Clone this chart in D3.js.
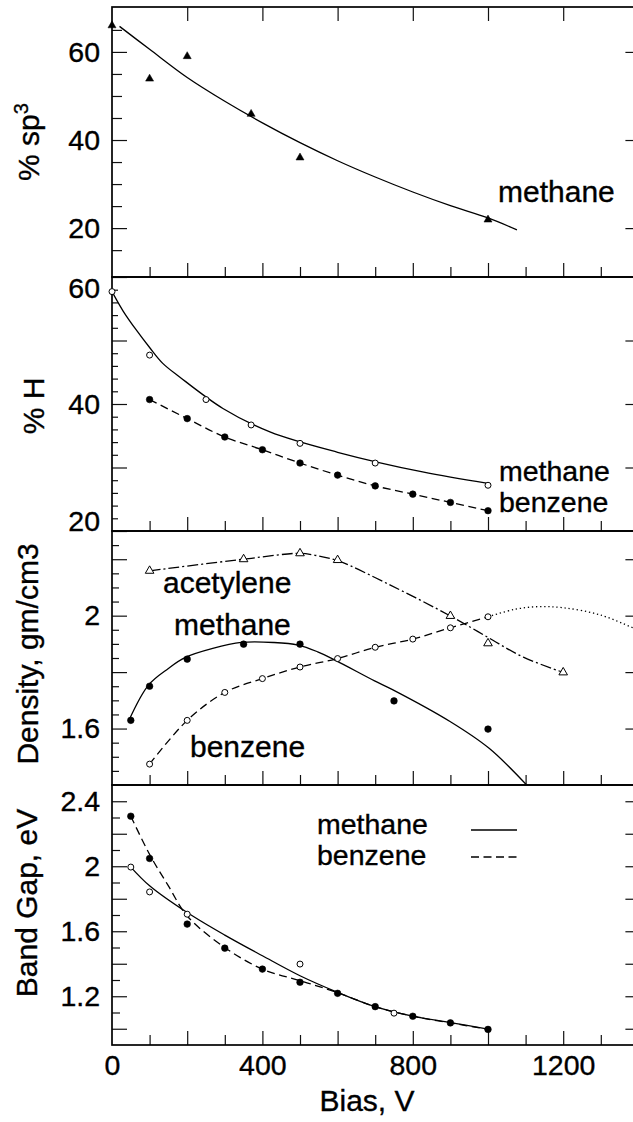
<!DOCTYPE html>
<html>
<head>
<meta charset="utf-8">
<script src="https://cdn.jsdelivr.net/npm/d3@7"></script>
<style>
  body { margin: 0; background: #fff; }
  svg { display: block; font-family: "Liberation Sans", Arial, Helvetica, sans-serif; }
  .tick line { stroke: #111; stroke-width: 1.2; }
  .tick text { font-size: 28.5px; fill: #000; stroke: #000; stroke-width: 0.35; }
  .lbl { font-size: 30px; fill: #000; stroke: #000; stroke-width: 0.35; }
  .lbl.pair { font-size: 28.5px; }
</style>
</head>
<body>
<svg width="633" height="1122"></svg>
<script>
// % sp3 (methane)
const sp3Bias = [0, 100, 200, 370, 500, 1000];
const sp3Pct = [66.0, 53.9, 59.0, 45.9, 36.0, 21.9];
const sp3FitBias = [20, 100, 200, 300, 400, 500, 600, 700, 800, 900, 1000, 1077];
const sp3Fit = [65.8, 60.6, 54.2, 48.8, 43.9, 39.4, 35.3, 31.6, 28.2, 25.1, 22.3, 19.6];

// % H
const hMethBias = [0, 100, 250, 370, 500, 700, 1000];
const hMeth = [57.7, 47.7, 40.7, 36.7, 33.8, 30.7, 27.2];
const hMethFitBias = [0, 30, 64, 100, 135, 179, 295, 420, 600, 826, 1000];
const hMethFit = [57.7, 54.6, 51.7, 48.9, 46.4, 44.3, 39.3, 35.6, 32.4, 29.3, 27.5];
const hBenzBias = [100, 200, 300, 400, 500, 600, 700, 800, 900, 1000];
const hBenz = [40.7, 37.7, 34.8, 32.8, 30.7, 28.8, 27.1, 25.8, 24.5, 23.2];

// density
const dAcetBias = [100, 350, 500, 600, 900, 1000, 1200];
const dAcet = [2.159, 2.200, 2.221, 2.197, 1.999, 1.902, 1.799];
const dAcetFitBias = [100, 350, 500, 540, 600, 739, 900, 1000, 1094, 1200];
const dAcetFit = [2.159, 2.200, 2.221, 2.214, 2.195, 2.109, 1.999, 1.923, 1.853, 1.799];
const dMethBias = [50, 100, 200, 350, 500, 750, 1000];
const dMeth = [1.629, 1.750, 1.846, 1.899, 1.899, 1.698, 1.598];
const dMethFitBias = [45, 97, 150, 195, 268, 344, 429, 495, 547, 597, 697, 746, 899, 1003, 1107];
const dMethFit = [1.629, 1.754, 1.813, 1.852, 1.884, 1.905, 1.905, 1.896, 1.872, 1.840, 1.770, 1.738, 1.625, 1.530, 1.394];
const dBenzBias = [100, 200, 300, 400, 500, 600, 700, 800, 900, 1000];
const dBenz = [1.474, 1.629, 1.728, 1.777, 1.818, 1.848, 1.888, 1.917, 1.957, 1.996];
const dBenzExtBias = [1000, 1070, 1134, 1200, 1300, 1400];
const dBenzExt = [1.996, 2.022, 2.032, 2.028, 2.002, 1.948];

// band gap
const bgMethBias = [50, 100, 200, 500, 750];
const bgMeth = [1.995, 1.842, 1.705, 1.398, 1.096];
const bgMethFitBias = [50, 100, 200, 300, 400, 500, 600, 700, 800, 900, 1000];
const bgMethFit = [1.995, 1.88, 1.715, 1.576, 1.449, 1.326, 1.224, 1.136, 1.077, 1.038, 0.998];
const bgBenzBias = [50, 100, 200, 300, 400, 500, 600, 700, 800, 900, 1000];
const bgBenz = [2.308, 2.048, 1.644, 1.496, 1.367, 1.286, 1.218, 1.136, 1.077, 1.036, 0.996];
const bgBenzFitBias = [50, 100, 150, 200, 300, 400, 500, 600, 700, 800, 900, 1000];
const bgBenzFit = [2.308, 2.073, 1.879, 1.694, 1.50, 1.367, 1.296, 1.222, 1.136, 1.077, 1.036, 0.996];

const xTickLabels = [0, 400, 800, 1200];

const svg = d3.select("svg");
const x = d3.scaleLinear().domain([0, 1400]).range([112, 638.4]);
const x0 = x(0), x1 = x(1400);

const panels = [
  { top: 7, bottom: 277, domain: [8.9, 70.2], labels: [20, 40, 60], long: [],
    short: [15, 25, 30, 35, 45, 50, 55, 65], shortLen: 10, right: [20, 40, 60],
    title: ["% sp", "3"], tx: 39, ty: 142 },
  { top: 277, bottom: 531, domain: [20, 60], labels: [20, 40, 60], long: [30, 50],
    short: d3.range(22, 60, 2).filter(v => v % 10), shortLen: 6, right: [30, 40, 50],
    nudge: { 60: 11, 20: -10 }, title: ["% H"], tx: 44, ty: 406 },
  { top: 531, bottom: 785, domain: [1.4, 2.3], labels: [1.6, 2], long: [1.8, 2.2],
    short: d3.range(29, 46).filter(i => i % 4).map(i => i / 20), shortLen: 7,
    right: [1.6, 1.8, 2, 2.2], title: ["Density, gm/cm3"], tx: 38, ty: 654 },
  { top: 785, bottom: 1045, domain: [0.9, 2.5], labels: [1.2, 1.6, 2, 2.4], long: [1.0, 1.4, 1.8, 2.2],
    short: [11, 13, 15, 17, 19, 21, 23].map(i => i / 10), shortLen: 8,
    right: [1.0, 1.2, 1.4, 1.6, 1.8, 2.0, 2.2, 2.4], title: ["Band Gap, eV"], tx: 37, ty: 903 }
];

panels.forEach((p, i) => {
  p.y = d3.scaleLinear().domain(p.domain).range([p.bottom, p.top]);

  // clip for data
  svg.append("clipPath").attr("id", "clip" + i)
    .append("rect")
    .attr("x", x0).attr("y", p.top)
    .attr("width", x1 - x0).attr("height", p.bottom - p.top);

  const noDomain = g => g.select(".domain").remove();

  // left ticks
  svg.append("g").attr("transform", `translate(${x0},0)`)
    .call(d3.axisLeft(p.y).tickValues(p.short).tickSize(-p.shortLen).tickFormat(""))
    .call(noDomain);
  svg.append("g").attr("transform", `translate(${x0},0)`)
    .call(d3.axisLeft(p.y).tickValues(p.long).tickSize(-15).tickFormat(""))
    .call(noDomain);
  const lab = svg.append("g").attr("transform", `translate(${x0},0)`)
    .call(d3.axisLeft(p.y).tickValues(p.labels).tickSize(-15).tickPadding(12).tickFormat(d => String(d)))
    .call(noDomain);
  lab.selectAll(".tick text").attr("font-size", null).attr("font-family", null);
  if (p.nudge) {
    lab.selectAll(".tick text").attr("y", d => p.nudge[d] || 0);
  }

  // right ticks
  svg.append("g").attr("transform", `translate(${x1},0)`)
    .call(d3.axisRight(p.y).tickValues(p.right).tickSize(-13).tickFormat(""))
    .call(noDomain);

  // bottom ticks
  const hundreds = d3.range(100, 1400, 100);
  svg.append("g").attr("transform", `translate(0,${p.bottom})`)
    .call(d3.axisBottom(x).tickValues(hundreds.filter(v => v % 200)).tickSize(-10).tickFormat(""))
    .call(noDomain);
  svg.append("g").attr("transform", `translate(0,${p.bottom})`)
    .call(d3.axisBottom(x).tickValues(hundreds.filter(v => v % 200 === 0)).tickSize(-14).tickFormat(""))
    .call(noDomain);

  // frame
  svg.append("rect")
    .attr("x", x0).attr("y", p.top)
    .attr("width", x1 - x0).attr("height", p.bottom - p.top)
    .attr("fill", "none").attr("stroke", "#000").attr("stroke-width", 1.7);

  // y title
  const t = svg.append("text").attr("class", "lbl")
    .attr("text-anchor", "middle")
    .attr("transform", `translate(${p.tx},${p.ty}) rotate(-90)`);
  t.append("tspan").text(p.title[0]);
  if (p.title[1]) {
    t.append("tspan").attr("font-size", 20).attr("dy", -11).text(p.title[1]);
  }
});

// top ticks on first panel
svg.append("g").attr("transform", `translate(0,${panels[0].top})`)
  .call(d3.axisTop(x).tickValues(d3.range(200, 1400, 200)).tickSize(-14).tickFormat(""))
  .call(g => g.select(".domain").remove());

// x labels on bottom panel
const last = panels[3];
svg.append("g").attr("transform", `translate(0,${last.bottom})`)
  .call(d3.axisBottom(x).tickValues(xTickLabels).tickSize(0).tickPadding(10).tickFormat(d3.format("d")))
  .call(g => g.select(".domain").remove())
  .selectAll(".tick text").attr("font-size", null).attr("font-family", null);

svg.append("text").attr("class", "lbl")
  .attr("x", 367).attr("y", 1111)
  .attr("text-anchor", "middle")
  .text("Bias, V");

// helpers
function curve(i, bias, vals, dash) {
  const p = panels[i];
  const line = d3.line()
    .x(d => x(d[0]))
    .y(d => p.y(d[1]))
    .curve(d3.curveCatmullRom.alpha(0.5));
  svg.append("path")
    .attr("clip-path", `url(#clip${i})`)
    .attr("d", line(d3.zip(bias, vals)))
    .attr("fill", "none")
    .attr("stroke", "#000")
    .attr("stroke-width", 1.3)
    .attr("stroke-dasharray", dash || null);
}

function dots(i, bias, vals, kind) {
  const p = panels[i];
  const data = d3.zip(bias, vals);
  const g = svg.append("g");
  if (kind === "fill" || kind === "open") {
    g.selectAll("circle").data(data).enter().append("circle")
      .attr("cx", d => x(d[0]))
      .attr("cy", d => p.y(d[1]))
      .attr("r", kind === "fill" ? 3.3 : 3)
      .attr("fill", kind === "fill" ? "#000" : "#fff")
      .attr("stroke", "#000")
      .attr("stroke-width", kind === "fill" ? 0.6 : 1);
  } else {
    g.selectAll("path").data(data).enter().append("path")
      .attr("transform", d => `translate(${x(d[0])},${p.y(d[1])})`)
      .attr("d", d3.symbol(d3.symbolTriangle, kind === "tri" ? 28 : 32))
      .attr("fill", kind === "tri" ? "#000" : "#fff")
      .attr("stroke", "#000")
      .attr("stroke-width", kind === "tri" ? 0.5 : 1);
  }
}

function label(txt, px, py, cls) {
  svg.append("text").attr("class", "lbl" + (cls ? " " + cls : ""))
    .attr("x", px).attr("y", py).text(txt);
}

const dashed = "8,4.5";
const dashDot = "11,3,2,3";
const dotted = "1.3,2.8";

// panel 1
curve(0, sp3FitBias, sp3Fit);
dots(0, sp3Bias, sp3Pct, "tri");
label("methane", 498, 202);

// panel 2
curve(1, hMethFitBias, hMethFit);
curve(1, hBenzBias, hBenz, dashed);
dots(1, hMethBias, hMeth, "open");
dots(1, hBenzBias, hBenz, "fill");
label("methane", 499, 481, "pair");
label("benzene", 499, 512, "pair");

// panel 3
curve(2, dAcetFitBias, dAcetFit, dashDot);
curve(2, dMethFitBias, dMethFit);
curve(2, dBenzBias, dBenz, dashed);
curve(2, dBenzExtBias, dBenzExt, dotted);
dots(2, dAcetBias, dAcet, "otri");
dots(2, dMethBias, dMeth, "fill");
dots(2, dBenzBias, dBenz, "open");
label("acetylene", 163, 593);
label("methane", 174, 635);
label("benzene", 190, 757);

// panel 4
curve(3, bgMethFitBias, bgMethFit);
curve(3, bgBenzFitBias, bgBenzFit, dashed);
dots(3, bgMethBias, bgMeth, "open");
dots(3, bgBenzBias, bgBenz, "fill");
label("methane", 317, 834, "pair");
label("benzene", 317, 865, "pair");
svg.append("line").attr("x1", 471).attr("x2", 517).attr("y1", 830).attr("y2", 830)
  .attr("stroke", "#000").attr("stroke-width", 1.3);
svg.append("line").attr("x1", 471).attr("x2", 517).attr("y1", 857).attr("y2", 857)
  .attr("stroke", "#000").attr("stroke-width", 1.3).attr("stroke-dasharray", dashed);
</script>
</body>
</html>
